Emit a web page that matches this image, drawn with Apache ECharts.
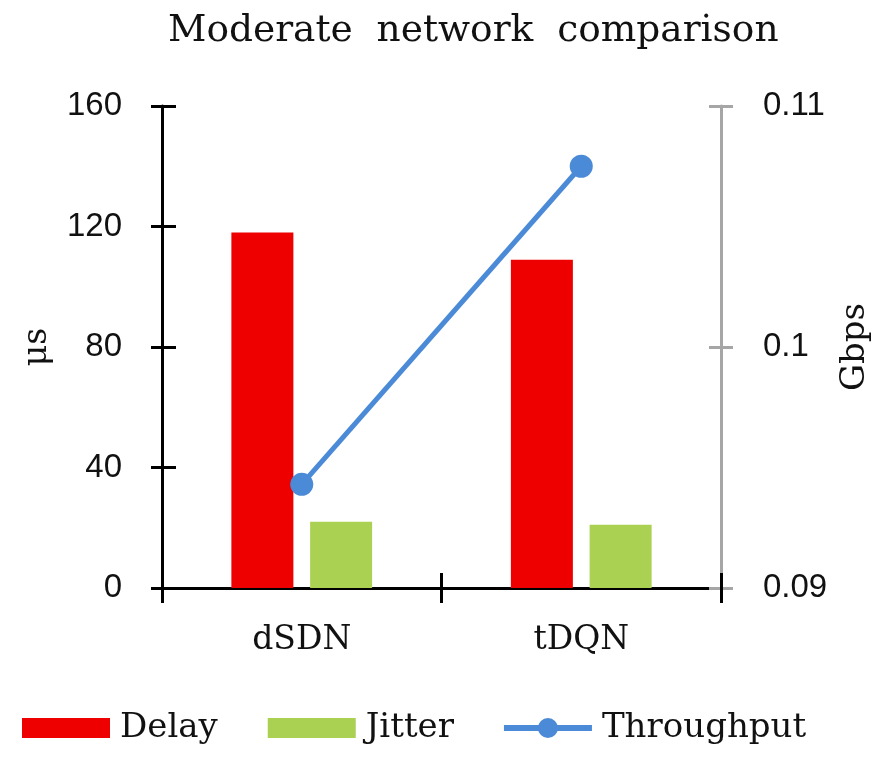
<!DOCTYPE html>
<html>
<head>
<meta charset="utf-8">
<script src="https://cdn.jsdelivr.net/npm/echarts@6/dist/echarts.min.js"></script>
<style>
html,body{margin:0;padding:0;background:#fff;}
#chart{width:885px;height:761px;}
</style>
</head>
<body>
<div id="chart"></div>
<script>
var titleText = 'Moderate  network  comparison';
var categories = ['dSDN', 'tDQN'];
var delay = [118, 109];
var jitter = [22, 21];
var throughput = [0.0943, 0.1075];
var leftTicks = {min: 0, max: 160, interval: 40};
var rightTicks = {min: 0.09, max: 0.11, interval: 0.01};

var serif = 'DejaVu Serif';
var sans = 'Liberation Sans';

var chart = echarts.init(document.getElementById('chart'));
var black = '#000';
var gray = '#a6a6a6';
var blue = '#4a8ad6';
var gridBox = {left: 162, right: 164, top: 106, bottom: 173, containLabel: false};
var lineMarkerIcon = 'path://M0 7 L35 7 L35 13 L0 13 Z M53 7 L88 7 L88 13 L53 13 Z M34 10 A10 10 0 1 1 54 10 A10 10 0 1 1 34 10 Z';

chart.setOption({
  animation: false,
  backgroundColor: '#fff',
  title: {
    text: titleText,
    left: 163,
    top: 7,
    textStyle: {fontFamily: serif, fontSize: 37.5, fontWeight: 'normal', color: '#111'}
  },
  legend: {
    left: 17,
    top: 706,
    itemWidth: 88,
    itemHeight: 20,
    itemGap: 50,
    textStyle: {fontFamily: serif, fontSize: 34, color: '#111', padding: [0, 0, 0, 5]},
    data: [
      {name: 'Delay', icon: 'rect'},
      {name: 'Jitter', icon: 'rect'},
      {name: 'Throughput', icon: lineMarkerIcon, itemStyle: {color: blue}}
    ]
  },
  grid: [gridBox, Object.assign({}, gridBox)],
  xAxis: [
    {
      type: 'category',
      gridIndex: 0,
      data: categories,
      axisLine: {lineStyle: {color: black, width: 3}},
      axisTick: {show: true, length: 15, lineStyle: {color: black, width: 3}},
      axisLabel: {fontFamily: serif, fontSize: 33, color: '#111', margin: 36}
    },
    {
      type: 'category',
      gridIndex: 1,
      data: categories,
      position: 'bottom',
      axisLine: {show: false},
      axisTick: {show: true, inside: true, length: 15, lineStyle: {color: black, width: 3}},
      axisLabel: {show: false}
    }
  ],
  yAxis: [
    {
      type: 'value',
      gridIndex: 0,
      position: 'left',
      min: leftTicks.min, max: leftTicks.max, interval: leftTicks.interval,
      name: 'μs',
      nameLocation: 'middle',
      nameGap: 108,
      nameTextStyle: {fontFamily: serif, fontSize: 33, color: '#111'},
      axisLine: {show: true, lineStyle: {color: black, width: 3}},
      axisTick: {show: true, length: 11, lineStyle: {color: black, width: 3}},
      splitLine: {show: false},
      axisLabel: {fontFamily: sans, fontSize: 33, color: '#111', margin: 40}
    },
    {
      type: 'value',
      gridIndex: 0,
      position: 'right',
      min: rightTicks.min, max: rightTicks.max, interval: rightTicks.interval,
      name: 'Gbps',
      nameLocation: 'middle',
      nameGap: 110,
      nameTextStyle: {fontFamily: serif, fontSize: 34, color: '#111'},
      axisLine: {show: true, lineStyle: {color: gray, width: 3}},
      axisTick: {show: true, length: 12, lineStyle: {color: gray, width: 3}},
      splitLine: {show: false},
      axisLabel: {fontFamily: sans, fontSize: 33, color: '#111', margin: 42}
    },
    {
      type: 'value',
      gridIndex: 1,
      position: 'left',
      min: leftTicks.min, max: leftTicks.max, interval: leftTicks.interval,
      axisLine: {show: false},
      axisTick: {show: true, inside: true, length: 14, lineStyle: {color: black, width: 3}},
      splitLine: {show: false},
      axisLabel: {show: false}
    },
    {
      type: 'value',
      gridIndex: 1,
      position: 'right',
      min: rightTicks.min, max: rightTicks.max, interval: rightTicks.interval,
      axisLine: {show: false},
      axisTick: {show: true, inside: true, length: 12, lineStyle: {color: gray, width: 3}},
      splitLine: {show: false},
      axisLabel: {show: false}
    }
  ],
  series: [
    {
      name: 'Delay',
      type: 'bar',
      xAxisIndex: 0,
      yAxisIndex: 0,
      data: delay,
      barWidth: 62,
      barGap: '27%',
      itemStyle: {color: '#ee0000'}
    },
    {
      name: 'Jitter',
      type: 'bar',
      xAxisIndex: 0,
      yAxisIndex: 0,
      data: jitter,
      barWidth: 62,
      barGap: '27%',
      itemStyle: {color: '#abd152'}
    },
    {
      name: 'Throughput',
      type: 'line',
      xAxisIndex: 0,
      yAxisIndex: 1,
      data: throughput,
      symbol: 'circle',
      symbolSize: 23,
      z: 5,
      lineStyle: {color: blue, width: 5},
      itemStyle: {color: blue}
    }
  ]
});
</script>
</body>
</html>
